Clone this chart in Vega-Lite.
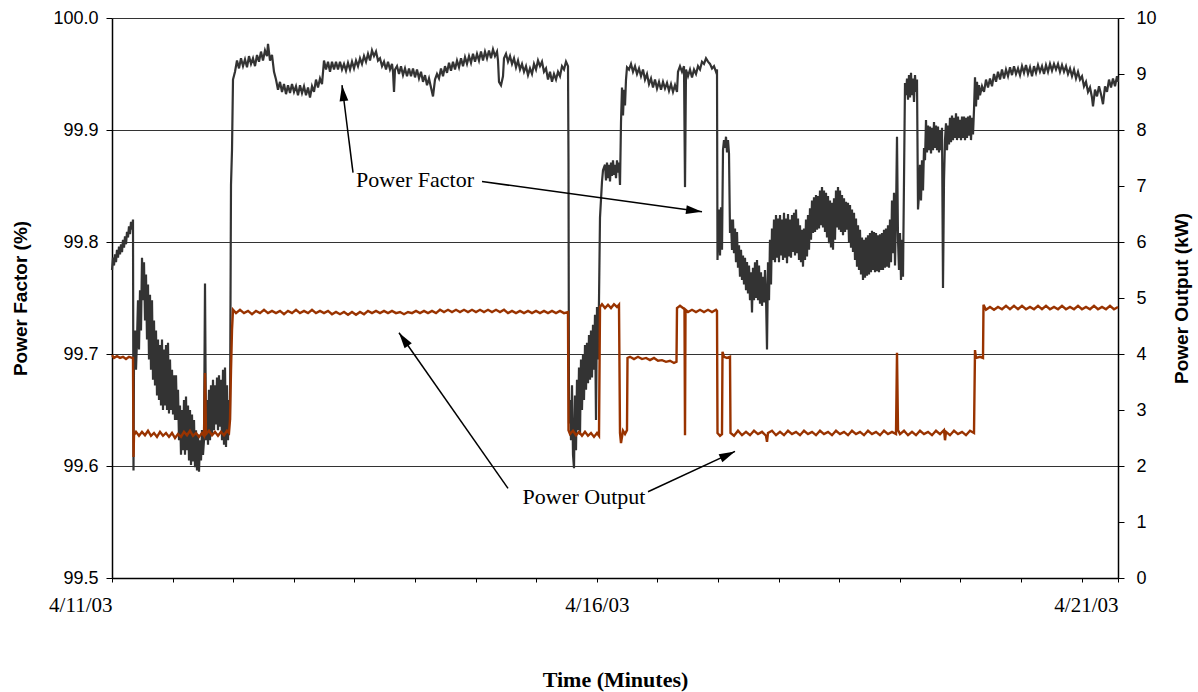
{
"$schema":"https://vega.github.io/schema/vega-lite/v6.json",
"width":1006,"height":560,
"autosize":{"type":"none"},
"padding":{"left":112,"top":18,"right":80,"bottom":114},
"background":"white",
"config":{"view":{"stroke":null},"axis":{"domainColor":"black","tickColor":"black","labelColor":"black","titleColor":"black"}},
"datasets":{
"pf":[
{"m":0,"pf":99.775},{"m":15,"pf":99.786},{"m":30,"pf":99.779},{"m":45,"pf":99.789},{"m":60,"pf":99.782},{"m":75,"pf":99.793},{"m":90,"pf":99.786},{"m":105,"pf":99.796},{"m":120,"pf":99.789},{"m":135,"pf":99.798},{"m":150,"pf":99.791},{"m":165,"pf":99.802},{"m":180,"pf":99.795},{"m":195,"pf":99.805},{"m":210,"pf":99.798},{"m":225,"pf":99.809},{"m":240,"pf":99.804},{"m":255,"pf":99.814},{"m":270,"pf":99.807},{"m":285,"pf":99.818},{"m":300,"pf":99.811},{"m":315,"pf":99.820},{"m":322.5,"pf":99.596},{"m":330,"pf":99.695},{"m":345,"pf":99.721},{"m":360,"pf":99.686},{"m":375,"pf":99.713},{"m":390,"pf":99.748},{"m":405,"pf":99.704},{"m":420,"pf":99.757},{"m":435,"pf":99.721},{"m":450,"pf":99.786},{"m":465,"pf":99.748},{"m":480,"pf":99.782},{"m":495,"pf":99.730},{"m":510,"pf":99.771},{"m":525,"pf":99.713},{"m":540,"pf":99.762},{"m":555,"pf":99.695},{"m":570,"pf":99.753},{"m":585,"pf":99.686},{"m":600,"pf":99.748},{"m":615,"pf":99.677},{"m":630,"pf":99.730},{"m":645,"pf":99.672},{"m":660,"pf":99.721},{"m":675,"pf":99.663},{"m":690,"pf":99.713},{"m":705,"pf":99.659},{"m":720,"pf":99.708},{"m":735,"pf":99.654},{"m":750,"pf":99.713},{"m":765,"pf":99.650},{"m":780,"pf":99.704},{"m":795,"pf":99.654},{"m":810,"pf":99.708},{"m":825,"pf":99.650},{"m":840,"pf":99.710},{"m":855,"pf":99.647},{"m":870,"pf":99.695},{"m":885,"pf":99.650},{"m":900,"pf":99.686},{"m":915,"pf":99.646},{"m":930,"pf":99.681},{"m":945,"pf":99.641},{"m":960,"pf":99.681},{"m":975,"pf":99.641},{"m":990,"pf":99.668},{"m":1005,"pf":99.623},{"m":1020,"pf":99.654},{"m":1035,"pf":99.610},{"m":1050,"pf":99.650},{"m":1065,"pf":99.614},{"m":1080,"pf":99.659},{"m":1095,"pf":99.610},{"m":1110,"pf":99.662},{"m":1125,"pf":99.614},{"m":1140,"pf":99.654},{"m":1155,"pf":99.605},{"m":1170,"pf":99.650},{"m":1185,"pf":99.601},{"m":1200,"pf":99.646},{"m":1215,"pf":99.604},{"m":1230,"pf":99.641},{"m":1245,"pf":99.599},{"m":1260,"pf":99.632},{"m":1275,"pf":99.596},{"m":1290,"pf":99.628},{"m":1305,"pf":99.595},{"m":1320,"pf":99.623},{"m":1335,"pf":99.605},{"m":1350,"pf":99.632},{"m":1365,"pf":99.610},{"m":1380,"pf":99.623},{"m":1395,"pf":99.763},{"m":1410,"pf":99.623},{"m":1425,"pf":99.659},{"m":1440,"pf":99.619},{"m":1455,"pf":99.668},{"m":1470,"pf":99.623},{"m":1485,"pf":99.672},{"m":1500,"pf":99.628},{"m":1515,"pf":99.677},{"m":1530,"pf":99.632},{"m":1545,"pf":99.672},{"m":1560,"pf":99.637},{"m":1575,"pf":99.679},{"m":1590,"pf":99.632},{"m":1605,"pf":99.681},{"m":1620,"pf":99.635},{"m":1635,"pf":99.677},{"m":1650,"pf":99.623},{"m":1665,"pf":99.686},{"m":1680,"pf":99.619},{"m":1695,"pf":99.688},{"m":1710,"pf":99.617},{"m":1725,"pf":99.672},{"m":1740,"pf":99.623},{"m":1755,"pf":99.659},{"m":1770,"pf":99.641},{"m":1785,"pf":99.851},{"m":1800,"pf":99.882},{"m":1815,"pf":99.945},
{"m":1845,"pf":99.952},{"m":1875,"pf":99.962},{"m":1905,"pf":99.955},{"m":1935,"pf":99.964},{"m":1965,"pf":99.957},{"m":1995,"pf":99.963},{"m":2025,"pf":99.956},{"m":2055,"pf":99.966},{"m":2085,"pf":99.959},{"m":2115,"pf":99.964},{"m":2145,"pf":99.957},{"m":2175,"pf":99.967},{"m":2205,"pf":99.961},{"m":2235,"pf":99.970},{"m":2265,"pf":99.962},{"m":2295,"pf":99.971},{"m":2325,"pf":99.966},{"m":2340,"pf":99.977},{"m":2370,"pf":99.962},{"m":2400,"pf":99.967},{"m":2430,"pf":99.952},{"m":2460,"pf":99.945},{"m":2490,"pf":99.936},{"m":2520,"pf":99.943},{"m":2550,"pf":99.934},{"m":2580,"pf":99.941},{"m":2610,"pf":99.932},{"m":2640,"pf":99.940},{"m":2670,"pf":99.933},{"m":2700,"pf":99.941},{"m":2730,"pf":99.934},{"m":2760,"pf":99.939},{"m":2790,"pf":99.931},{"m":2820,"pf":99.940},{"m":2850,"pf":99.933},{"m":2880,"pf":99.939},{"m":2910,"pf":99.931},{"m":2940,"pf":99.938},{"m":2970,"pf":99.929},{"m":3000,"pf":99.939},{"m":3030,"pf":99.934},{"m":3060,"pf":99.945},{"m":3090,"pf":99.938},{"m":3120,"pf":99.946},{"m":3150,"pf":99.941},{"m":3180,"pf":99.962},{"m":3210,"pf":99.954},{"m":3240,"pf":99.961},{"m":3270,"pf":99.952},{"m":3300,"pf":99.961},{"m":3330,"pf":99.954},{"m":3360,"pf":99.961},{"m":3390,"pf":99.954},{"m":3420,"pf":99.961},{"m":3450,"pf":99.954},{"m":3480,"pf":99.959},{"m":3510,"pf":99.953},{"m":3540,"pf":99.960},{"m":3570,"pf":99.954},{"m":3600,"pf":99.961},{"m":3630,"pf":99.955},{"m":3660,"pf":99.962},{"m":3690,"pf":99.957},{"m":3720,"pf":99.964},{"m":3750,"pf":99.959},{"m":3780,"pf":99.966},{"m":3810,"pf":99.961},{"m":3840,"pf":99.968},{"m":3870,"pf":99.962},{"m":3900,"pf":99.971},{"m":3930,"pf":99.966},{"m":3960,"pf":99.970},{"m":3990,"pf":99.962},{"m":4020,"pf":99.964},{"m":4050,"pf":99.957},{"m":4080,"pf":99.961},{"m":4110,"pf":99.954},{"m":4140,"pf":99.961},{"m":4170,"pf":99.954},{"m":4200,"pf":99.959},{"m":4215,"pf":99.952},{"m":4230,"pf":99.934},{"m":4245,"pf":99.954},{"m":4275,"pf":99.957},{"m":4305,"pf":99.950},{"m":4335,"pf":99.957},{"m":4365,"pf":99.949},{"m":4395,"pf":99.955},{"m":4425,"pf":99.948},{"m":4455,"pf":99.955},{"m":4485,"pf":99.948},{"m":4515,"pf":99.955},{"m":4545,"pf":99.947},{"m":4575,"pf":99.954},{"m":4605,"pf":99.946},{"m":4635,"pf":99.952},{"m":4665,"pf":99.943},{"m":4695,"pf":99.949},{"m":4725,"pf":99.940},{"m":4755,"pf":99.946},{"m":4785,"pf":99.938},{"m":4815,"pf":99.930},{"m":4845,"pf":99.945},{"m":4875,"pf":99.950},{"m":4905,"pf":99.946},{"m":4935,"pf":99.955},{"m":4965,"pf":99.948},{"m":4995,"pf":99.957},{"m":5025,"pf":99.951},{"m":5055,"pf":99.960},{"m":5085,"pf":99.953},{"m":5115,"pf":99.961},{"m":5145,"pf":99.954},{"m":5175,"pf":99.962},{"m":5205,"pf":99.956},{"m":5235,"pf":99.964},{"m":5265,"pf":99.957},{"m":5295,"pf":99.965},{"m":5325,"pf":99.959},{"m":5355,"pf":99.966},{"m":5385,"pf":99.960},{"m":5415,"pf":99.968},{"m":5445,"pf":99.961},{"m":5475,"pf":99.968},{"m":5505,"pf":99.962},{"m":5535,"pf":99.970},{"m":5565,"pf":99.962},{"m":5595,"pf":99.970},{"m":5625,"pf":99.964},{"m":5655,"pf":99.971},{"m":5685,"pf":99.964},{"m":5715,"pf":99.972},{"m":5745,"pf":99.966},{"m":5775,"pf":99.970},{"m":5790,"pf":99.962},{"m":5805,"pf":99.943},{"m":5835,"pf":99.940},{"m":5865,"pf":99.948},{"m":5880,"pf":99.964},{"m":5910,"pf":99.968},{"m":5940,"pf":99.961},{"m":5970,"pf":99.966},{"m":6000,"pf":99.959},{"m":6030,"pf":99.964},{"m":6060,"pf":99.956},{"m":6090,"pf":99.962},{"m":6120,"pf":99.954},{"m":6150,"pf":99.959},{"m":6180,"pf":99.952},{"m":6210,"pf":99.957},{"m":6240,"pf":99.949},{"m":6270,"pf":99.955},{"m":6300,"pf":99.950},{"m":6330,"pf":99.959},{"m":6360,"pf":99.954},{"m":6390,"pf":99.962},{"m":6420,"pf":99.957},{"m":6450,"pf":99.961},{"m":6480,"pf":99.952},{"m":6510,"pf":99.955},{"m":6540,"pf":99.945},{"m":6570,"pf":99.952},{"m":6600,"pf":99.943},{"m":6630,"pf":99.950},{"m":6660,"pf":99.945},{"m":6690,"pf":99.952},{"m":6720,"pf":99.948},{"m":6750,"pf":99.957},{"m":6780,"pf":99.954},{"m":6810,"pf":99.961},{"m":6840,"pf":99.957},{"m":6847.5,"pf":99.871},
{"m":6855,"pf":99.638},{"m":6870,"pf":99.659},{"m":6885,"pf":99.623},{"m":6900,"pf":99.672},{"m":6915,"pf":99.610},{"m":6930,"pf":99.598},{"m":6945,"pf":99.663},{"m":6960,"pf":99.614},{"m":6975,"pf":99.677},{"m":6990,"pf":99.632},{"m":7005,"pf":99.688},{"m":7020,"pf":99.628},{"m":7035,"pf":99.695},{"m":7050,"pf":99.650},{"m":7065,"pf":99.699},{"m":7080,"pf":99.659},{"m":7095,"pf":99.708},{"m":7110,"pf":99.668},{"m":7125,"pf":99.710},{"m":7140,"pf":99.674},{"m":7155,"pf":99.717},{"m":7170,"pf":99.677},{"m":7185,"pf":99.721},{"m":7200,"pf":99.679},{"m":7215,"pf":99.726},{"m":7230,"pf":99.686},{"m":7245,"pf":99.735},{"m":7260,"pf":99.641},{"m":7275,"pf":99.742},{"m":7290,"pf":99.695},{"m":7305,"pf":99.748},{"m":7320,"pf":99.822},{"m":7335,"pf":99.838},{"m":7350,"pf":99.854},{"m":7365,"pf":99.864},{"m":7395,"pf":99.869},{"m":7410,"pf":99.855},{"m":7425,"pf":99.871},{"m":7440,"pf":99.857},{"m":7455,"pf":99.869},{"m":7470,"pf":99.854},{"m":7485,"pf":99.871},{"m":7500,"pf":99.859},{"m":7515,"pf":99.873},{"m":7530,"pf":99.860},{"m":7545,"pf":99.869},{"m":7560,"pf":99.857},{"m":7575,"pf":99.873},{"m":7590,"pf":99.862},{"m":7605,"pf":99.871},{"m":7620,"pf":99.851},{"m":7635,"pf":99.907},{"m":7650,"pf":99.938},{"m":7665,"pf":99.913},{"m":7680,"pf":99.936},{"m":7695,"pf":99.922},{"m":7710,"pf":99.945},{"m":7725,"pf":99.956},
{"m":7755,"pf":99.954},{"m":7785,"pf":99.959},{"m":7815,"pf":99.952},{"m":7845,"pf":99.957},{"m":7875,"pf":99.950},{"m":7905,"pf":99.955},{"m":7935,"pf":99.948},{"m":7965,"pf":99.954},{"m":7995,"pf":99.945},{"m":8025,"pf":99.950},{"m":8055,"pf":99.941},{"m":8085,"pf":99.946},{"m":8115,"pf":99.938},{"m":8145,"pf":99.945},{"m":8175,"pf":99.937},{"m":8205,"pf":99.943},{"m":8235,"pf":99.936},{"m":8265,"pf":99.943},{"m":8295,"pf":99.937},{"m":8325,"pf":99.942},{"m":8355,"pf":99.935},{"m":8385,"pf":99.941},{"m":8415,"pf":99.934},{"m":8445,"pf":99.940},{"m":8475,"pf":99.934},{"m":8490,"pf":99.952},{"m":8520,"pf":99.957},{"m":8550,"pf":99.952},{"m":8580,"pf":99.957},{"m":8595,"pf":99.849},{"m":8610,"pf":99.954},{"m":8640,"pf":99.948},{"m":8670,"pf":99.954},{"m":8700,"pf":99.947},{"m":8730,"pf":99.954},{"m":8760,"pf":99.950},{"m":8790,"pf":99.957},{"m":8820,"pf":99.954},{"m":8850,"pf":99.961},{"m":8880,"pf":99.959},{"m":8910,"pf":99.964},{"m":8940,"pf":99.961},{"m":8970,"pf":99.959},{"m":9000,"pf":99.955},{"m":9030,"pf":99.957},{"m":9060,"pf":99.952},{"m":9075,"pf":99.954},{"m":9082.5,"pf":99.784},{"m":9090,"pf":99.802},{"m":9105,"pf":99.829},{"m":9120,"pf":99.788},{"m":9135,"pf":99.831},{"m":9150,"pf":99.793},{"m":9165,"pf":99.882},{"m":9180,"pf":99.891},{"m":9195,"pf":99.884},{"m":9210,"pf":99.894},{"m":9225,"pf":99.880},{"m":9240,"pf":99.891},{"m":9255,"pf":99.879},{"m":9270,"pf":99.808},{"m":9285,"pf":99.820},{"m":9300,"pf":99.793},
{"m":9315,"pf":99.820},{"m":9330,"pf":99.790},{"m":9345,"pf":99.812},{"m":9360,"pf":99.782},{"m":9375,"pf":99.809},{"m":9390,"pf":99.777},{"m":9405,"pf":99.797},{"m":9420,"pf":99.769},{"m":9435,"pf":99.793},{"m":9450,"pf":99.766},{"m":9465,"pf":99.788},{"m":9480,"pf":99.762},{"m":9495,"pf":99.786},{"m":9510,"pf":99.757},{"m":9525,"pf":99.782},{"m":9540,"pf":99.754},{"m":9555,"pf":99.779},{"m":9570,"pf":99.748},{"m":9585,"pf":99.773},{"m":9600,"pf":99.737},{"m":9615,"pf":99.777},{"m":9630,"pf":99.748},{"m":9645,"pf":99.782},{"m":9660,"pf":99.750},{"m":9675,"pf":99.784},{"m":9690,"pf":99.748},{"m":9705,"pf":99.779},{"m":9720,"pf":99.745},{"m":9735,"pf":99.773},{"m":9750,"pf":99.743},{"m":9765,"pf":99.769},{"m":9780,"pf":99.746},{"m":9795,"pf":99.775},{"m":9810,"pf":99.752},{"m":9825,"pf":99.704},{"m":9840,"pf":99.782},{"m":9855,"pf":99.748},{"m":9870,"pf":99.802},{"m":9885,"pf":99.762},{"m":9900,"pf":99.812},{"m":9915,"pf":99.784},{"m":9930,"pf":99.820},{"m":9945,"pf":99.782},{"m":9960,"pf":99.824},{"m":9975,"pf":99.786},{"m":9990,"pf":99.821},{"m":10005,"pf":99.782},{"m":10020,"pf":99.824},{"m":10035,"pf":99.788},{"m":10050,"pf":99.820},{"m":10065,"pf":99.784},{"m":10080,"pf":99.826},{"m":10095,"pf":99.786},{"m":10110,"pf":99.821},{"m":10125,"pf":99.781},{"m":10140,"pf":99.825},{"m":10155,"pf":99.787},{"m":10170,"pf":99.820},{"m":10185,"pf":99.786},{"m":10200,"pf":99.824},{"m":10215,"pf":99.791},{"m":10230,"pf":99.826},{"m":10245,"pf":99.788},{"m":10260,"pf":99.829},{"m":10275,"pf":99.790},{"m":10290,"pf":99.821},{"m":10305,"pf":99.784},{"m":10320,"pf":99.815},{"m":10335,"pf":99.782},{"m":10350,"pf":99.811},{"m":10365,"pf":99.778},{"m":10380,"pf":99.812},{"m":10395,"pf":99.784},{"m":10410,"pf":99.820},{"m":10425,"pf":99.787},{"m":10440,"pf":99.824},{"m":10455,"pf":99.793},{"m":10470,"pf":99.830},{"m":10485,"pf":99.802},{"m":10500,"pf":99.837},{"m":10515,"pf":99.808},{"m":10530,"pf":99.840},{"m":10545,"pf":99.809},{"m":10560,"pf":99.842},{"m":10575,"pf":99.811},{"m":10590,"pf":99.841},{"m":10605,"pf":99.812},{"m":10620,"pf":99.846},{"m":10635,"pf":99.815},{"m":10650,"pf":99.849},{"m":10665,"pf":99.813},{"m":10680,"pf":99.846},{"m":10695,"pf":99.809},{"m":10710,"pf":99.844},{"m":10725,"pf":99.804},{"m":10740,"pf":99.841},{"m":10755,"pf":99.799},{"m":10770,"pf":99.837},{"m":10785,"pf":99.795},{"m":10800,"pf":99.835},{"m":10815,"pf":99.793},{"m":10830,"pf":99.839},{"m":10845,"pf":99.802},{"m":10860,"pf":99.846},{"m":10875,"pf":99.813},{"m":10890,"pf":99.849},{"m":10905,"pf":99.811},{"m":10920,"pf":99.846},{"m":10935,"pf":99.809},{"m":10950,"pf":99.842},{"m":10965,"pf":99.806},{"m":10980,"pf":99.839},{"m":10995,"pf":99.809},{"m":11010,"pf":99.836},{"m":11025,"pf":99.811},{"m":11040,"pf":99.835},{"m":11055,"pf":99.800},{"m":11070,"pf":99.833},{"m":11085,"pf":99.795},{"m":11100,"pf":99.829},{"m":11115,"pf":99.791},{"m":11130,"pf":99.826},{"m":11145,"pf":99.784},{"m":11160,"pf":99.821},{"m":11175,"pf":99.778},{"m":11190,"pf":99.815},{"m":11205,"pf":99.775},{"m":11220,"pf":99.811},{"m":11235,"pf":99.771},{"m":11250,"pf":99.804},{"m":11265,"pf":99.766},{"m":11280,"pf":99.802},{"m":11295,"pf":99.768},{"m":11310,"pf":99.804},{"m":11325,"pf":99.770},{"m":11340,"pf":99.806},{"m":11355,"pf":99.771},{"m":11370,"pf":99.808},{"m":11385,"pf":99.773},{"m":11400,"pf":99.810},{"m":11415,"pf":99.775},{"m":11430,"pf":99.809},{"m":11445,"pf":99.773},{"m":11460,"pf":99.808},{"m":11475,"pf":99.774},{"m":11490,"pf":99.806},{"m":11505,"pf":99.773},{"m":11520,"pf":99.807},{"m":11535,"pf":99.775},{"m":11550,"pf":99.808},{"m":11565,"pf":99.775},{"m":11580,"pf":99.811},{"m":11595,"pf":99.777},{"m":11610,"pf":99.812},{"m":11625,"pf":99.778},{"m":11640,"pf":99.815},{"m":11655,"pf":99.777},{"m":11670,"pf":99.820},{"m":11685,"pf":99.782},{"m":11700,"pf":99.837},{"m":11715,"pf":99.790},{"m":11730,"pf":99.844},{"m":11745,"pf":99.779},{"m":11760,"pf":99.824},{"m":11775,"pf":99.894},{"m":11790,"pf":99.802},{"m":11805,"pf":99.775},{"m":11820,"pf":99.808},{"m":11835,"pf":99.766},{"m":11850,"pf":99.802},{"m":11865,"pf":99.769},{"m":11880,"pf":99.855},{"m":11895,"pf":99.942},
{"m":11910,"pf":99.931},{"m":11925,"pf":99.946},{"m":11940,"pf":99.927},{"m":11955,"pf":99.949},{"m":11970,"pf":99.929},{"m":11985,"pf":99.951},{"m":12000,"pf":99.931},{"m":12015,"pf":99.946},{"m":12030,"pf":99.925},{"m":12045,"pf":99.949},{"m":12060,"pf":99.934},{"m":12075,"pf":99.945},{"m":12090,"pf":99.829},{"m":12105,"pf":99.842},{"m":12120,"pf":99.869},{"m":12135,"pf":99.837},{"m":12150,"pf":99.873},{"m":12165,"pf":99.846},{"m":12180,"pf":99.884},{"m":12195,"pf":99.873},{"m":12210,"pf":99.909},{"m":12225,"pf":99.880},{"m":12240,"pf":99.904},{"m":12255,"pf":99.882},{"m":12270,"pf":99.903},{"m":12285,"pf":99.879},{"m":12300,"pf":99.902},{"m":12315,"pf":99.882},{"m":12330,"pf":99.907},{"m":12345,"pf":99.884},{"m":12360,"pf":99.904},{"m":12375,"pf":99.882},{"m":12390,"pf":99.903},{"m":12405,"pf":99.880},{"m":12420,"pf":99.900},{"m":12435,"pf":99.882},{"m":12450,"pf":99.902},{"m":12465,"pf":99.759},{"m":12480,"pf":99.855},{"m":12495,"pf":99.891},{"m":12510,"pf":99.906},{"m":12525,"pf":99.882},{"m":12540,"pf":99.904},{"m":12555,"pf":99.887},{"m":12570,"pf":99.911},{"m":12585,"pf":99.889},{"m":12600,"pf":99.913},{"m":12615,"pf":99.891},{"m":12630,"pf":99.911},{"m":12645,"pf":99.893},{"m":12660,"pf":99.915},{"m":12675,"pf":99.891},{"m":12690,"pf":99.912},{"m":12705,"pf":99.893},{"m":12720,"pf":99.909},{"m":12735,"pf":99.891},{"m":12750,"pf":99.912},{"m":12765,"pf":99.893},{"m":12780,"pf":99.912},{"m":12795,"pf":99.891},{"m":12810,"pf":99.911},{"m":12825,"pf":99.893},{"m":12840,"pf":99.912},{"m":12855,"pf":99.895},{"m":12870,"pf":99.913},{"m":12885,"pf":99.891},{"m":12900,"pf":99.911},{"m":12915,"pf":99.896},{"m":12930,"pf":99.918},{"m":12945,"pf":99.947},{"m":12960,"pf":99.921},{"m":12975,"pf":99.943},{"m":12990,"pf":99.927},{"m":13005,"pf":99.940},{"m":13020,"pf":99.931},
{"m":13050,"pf":99.939},{"m":13080,"pf":99.934},{"m":13110,"pf":99.945},{"m":13140,"pf":99.938},{"m":13170,"pf":99.946},{"m":13200,"pf":99.939},{"m":13230,"pf":99.950},{"m":13260,"pf":99.943},{"m":13290,"pf":99.952},{"m":13320,"pf":99.945},{"m":13350,"pf":99.954},{"m":13380,"pf":99.946},{"m":13410,"pf":99.954},{"m":13440,"pf":99.948},{"m":13470,"pf":99.956},{"m":13500,"pf":99.949},{"m":13530,"pf":99.957},{"m":13560,"pf":99.950},{"m":13590,"pf":99.955},{"m":13620,"pf":99.949},{"m":13650,"pf":99.957},{"m":13680,"pf":99.951},{"m":13710,"pf":99.958},{"m":13740,"pf":99.950},{"m":13770,"pf":99.956},{"m":13800,"pf":99.948},{"m":13830,"pf":99.957},{"m":13860,"pf":99.951},{"m":13890,"pf":99.958},{"m":13920,"pf":99.952},{"m":13950,"pf":99.957},{"m":13980,"pf":99.950},{"m":14010,"pf":99.958},{"m":14040,"pf":99.952},{"m":14070,"pf":99.959},{"m":14100,"pf":99.953},{"m":14130,"pf":99.959},{"m":14160,"pf":99.954},{"m":14190,"pf":99.959},{"m":14220,"pf":99.952},{"m":14250,"pf":99.958},{"m":14280,"pf":99.952},{"m":14310,"pf":99.957},{"m":14340,"pf":99.950},{"m":14370,"pf":99.955},{"m":14400,"pf":99.948},{"m":14430,"pf":99.954},{"m":14460,"pf":99.946},{"m":14490,"pf":99.952},{"m":14520,"pf":99.945},{"m":14550,"pf":99.948},{"m":14580,"pf":99.939},{"m":14610,"pf":99.943},{"m":14640,"pf":99.934},{"m":14670,"pf":99.938},{"m":14700,"pf":99.929},{"m":14715,"pf":99.921},{"m":14745,"pf":99.936},{"m":14775,"pf":99.930},{"m":14805,"pf":99.939},{"m":14835,"pf":99.932},{"m":14865,"pf":99.923},{"m":14895,"pf":99.939},{"m":14925,"pf":99.934},{"m":14955,"pf":99.945},{"m":14985,"pf":99.938},{"m":15015,"pf":99.946},{"m":15045,"pf":99.939},{"m":15075,"pf":99.948},{"m":15090,"pf":99.943}
],
"po":[
{"m":0,"po":3.98},{"m":30,"po":3.93},{"m":75,"po":3.96},{"m":120,"po":3.93},{"m":165,"po":3.95},{"m":210,"po":3.91},{"m":255,"po":3.95},{"m":300,"po":3.93},{"m":315,"po":3.93},{"m":322.5,"po":2.16},{"m":330,"po":2.55},{"m":360,"po":2.61},{"m":405,"po":2.54},{"m":450,"po":2.61},{"m":495,"po":2.55},{"m":540,"po":2.63},{"m":585,"po":2.54},{"m":630,"po":2.59},{"m":675,"po":2.52},{"m":720,"po":2.61},{"m":765,"po":2.54},{"m":810,"po":2.59},{"m":855,"po":2.52},{"m":900,"po":2.59},{"m":945,"po":2.50},{"m":990,"po":2.57},{"m":1035,"po":2.52},{"m":1080,"po":2.61},{"m":1125,"po":2.55},{"m":1170,"po":2.63},{"m":1215,"po":2.54},{"m":1260,"po":2.59},{"m":1305,"po":2.52},{"m":1350,"po":2.59},{"m":1380,"po":2.54},{"m":1395,"po":3.66},{"m":1410,"po":2.57},{"m":1455,"po":2.63},{"m":1500,"po":2.55},{"m":1545,"po":2.61},{"m":1590,"po":2.54},{"m":1635,"po":2.61},{"m":1680,"po":2.55},{"m":1725,"po":2.63},{"m":1755,"po":2.59},{"m":1770,"po":2.82},{"m":1785,"po":3.71},{"m":1800,"po":4.43},{"m":1815,"po":4.79},
{"m":1860,"po":4.73},{"m":1920,"po":4.79},{"m":1980,"po":4.73},{"m":2040,"po":4.77},{"m":2100,"po":4.71},{"m":2160,"po":4.77},{"m":2220,"po":4.73},{"m":2280,"po":4.79},{"m":2340,"po":4.73},{"m":2400,"po":4.77},{"m":2460,"po":4.73},{"m":2520,"po":4.77},{"m":2580,"po":4.71},{"m":2640,"po":4.77},{"m":2700,"po":4.73},{"m":2760,"po":4.79},{"m":2820,"po":4.73},{"m":2880,"po":4.77},{"m":2940,"po":4.73},{"m":3000,"po":4.79},{"m":3060,"po":4.73},{"m":3120,"po":4.77},{"m":3180,"po":4.73},{"m":3240,"po":4.77},{"m":3300,"po":4.71},{"m":3360,"po":4.75},{"m":3420,"po":4.71},{"m":3480,"po":4.75},{"m":3540,"po":4.70},{"m":3600,"po":4.75},{"m":3660,"po":4.70},{"m":3720,"po":4.75},{"m":3780,"po":4.71},{"m":3840,"po":4.77},{"m":3900,"po":4.73},{"m":3960,"po":4.77},{"m":4020,"po":4.73},{"m":4080,"po":4.77},{"m":4140,"po":4.73},{"m":4200,"po":4.77},{"m":4260,"po":4.73},{"m":4320,"po":4.75},{"m":4380,"po":4.71},{"m":4440,"po":4.75},{"m":4500,"po":4.73},{"m":4560,"po":4.77},{"m":4620,"po":4.73},{"m":4680,"po":4.77},{"m":4740,"po":4.73},{"m":4800,"po":4.77},{"m":4860,"po":4.73},{"m":4920,"po":4.79},{"m":4980,"po":4.75},{"m":5040,"po":4.79},{"m":5100,"po":4.75},{"m":5160,"po":4.79},{"m":5220,"po":4.75},{"m":5280,"po":4.79},{"m":5340,"po":4.75},{"m":5400,"po":4.79},{"m":5460,"po":4.75},{"m":5520,"po":4.79},{"m":5580,"po":4.75},{"m":5640,"po":4.79},{"m":5700,"po":4.75},{"m":5760,"po":4.79},{"m":5820,"po":4.75},{"m":5880,"po":4.79},{"m":5940,"po":4.73},{"m":6000,"po":4.77},{"m":6060,"po":4.73},{"m":6120,"po":4.77},{"m":6180,"po":4.73},{"m":6240,"po":4.77},{"m":6300,"po":4.73},{"m":6360,"po":4.77},{"m":6420,"po":4.73},{"m":6480,"po":4.77},{"m":6540,"po":4.73},{"m":6600,"po":4.77},{"m":6660,"po":4.73},{"m":6720,"po":4.77},{"m":6780,"po":4.73},{"m":6840,"po":4.75},
{"m":6847.5,"po":2.64},{"m":6870,"po":2.57},{"m":6915,"po":2.63},{"m":6960,"po":2.55},{"m":7005,"po":2.61},{"m":7050,"po":2.54},{"m":7095,"po":2.61},{"m":7140,"po":2.54},{"m":7185,"po":2.59},{"m":7230,"po":2.52},{"m":7275,"po":2.59},{"m":7305,"po":2.54},{"m":7320,"po":4.84},{"m":7350,"po":4.89},{"m":7395,"po":4.82},{"m":7440,"po":4.88},{"m":7485,"po":4.82},{"m":7530,"po":4.89},{"m":7575,"po":4.84},{"m":7605,"po":4.88},{"m":7620,"po":2.59},{"m":7635,"po":2.41},{"m":7665,"po":2.63},{"m":7695,"po":2.57},{"m":7725,"po":2.64},{"m":7732.5,"po":3.93},{"m":7770,"po":3.95},{"m":7830,"po":3.91},{"m":7890,"po":3.95},{"m":7950,"po":3.91},{"m":8010,"po":3.93},{"m":8070,"po":3.89},{"m":8130,"po":3.93},{"m":8190,"po":3.88},{"m":8250,"po":3.89},{"m":8310,"po":3.86},{"m":8370,"po":3.88},{"m":8430,"po":3.84},{"m":8467.5,"po":3.86},{"m":8475,"po":4.82},{"m":8520,"po":4.86},{"m":8565,"po":4.82},{"m":8587.5,"po":4.80},{"m":8595,"po":2.55},{"m":8602.5,"po":4.79},{"m":8640,"po":4.75},{"m":8700,"po":4.79},{"m":8760,"po":4.75},{"m":8820,"po":4.79},{"m":8880,"po":4.75},{"m":8940,"po":4.79},{"m":9000,"po":4.75},{"m":9060,"po":4.79},{"m":9075,"po":4.77},{"m":9082.5,"po":2.59},{"m":9120,"po":2.54},{"m":9150,"po":2.57},{"m":9157.5,"po":4.04},{"m":9180,"po":3.95},{"m":9225,"po":3.93},{"m":9270,"po":3.95},{"m":9277.5,"po":2.59},
{"m":9330,"po":2.54},{"m":9390,"po":2.63},{"m":9450,"po":2.55},{"m":9510,"po":2.61},{"m":9570,"po":2.55},{"m":9630,"po":2.63},{"m":9690,"po":2.57},{"m":9750,"po":2.61},{"m":9810,"po":2.54},{"m":9825,"po":2.43},{"m":9840,"po":2.59},{"m":9900,"po":2.63},{"m":9960,"po":2.55},{"m":10020,"po":2.61},{"m":10080,"po":2.55},{"m":10140,"po":2.63},{"m":10200,"po":2.57},{"m":10260,"po":2.61},{"m":10320,"po":2.55},{"m":10380,"po":2.63},{"m":10440,"po":2.57},{"m":10500,"po":2.61},{"m":10560,"po":2.55},{"m":10620,"po":2.63},{"m":10680,"po":2.57},{"m":10740,"po":2.61},{"m":10800,"po":2.55},{"m":10860,"po":2.63},{"m":10920,"po":2.57},{"m":10980,"po":2.61},{"m":11040,"po":2.55},{"m":11100,"po":2.63},{"m":11160,"po":2.57},{"m":11220,"po":2.61},{"m":11280,"po":2.55},{"m":11340,"po":2.63},{"m":11400,"po":2.57},{"m":11460,"po":2.61},{"m":11520,"po":2.55},{"m":11580,"po":2.63},{"m":11640,"po":2.57},{"m":11700,"po":2.61},{"m":11760,"po":2.57},{"m":11775,"po":4.02},{"m":11790,"po":2.64},{"m":11820,"po":2.57},{"m":11880,"po":2.63},{"m":11940,"po":2.55},{"m":12000,"po":2.61},{"m":12060,"po":2.55},{"m":12120,"po":2.63},{"m":12180,"po":2.57},{"m":12240,"po":2.61},{"m":12300,"po":2.55},{"m":12360,"po":2.63},{"m":12420,"po":2.57},{"m":12480,"po":2.64},{"m":12495,"po":2.46},{"m":12510,"po":2.61},{"m":12570,"po":2.55},{"m":12630,"po":2.63},{"m":12690,"po":2.57},{"m":12750,"po":2.61},{"m":12810,"po":2.55},{"m":12870,"po":2.63},{"m":12930,"po":2.59},{"m":12945,"po":4.07},{"m":12960,"po":3.93},{"m":13020,"po":3.95},{"m":13065,"po":3.93},{"m":13072.5,"po":4.88},{"m":13110,"po":4.79},{"m":13170,"po":4.84},{"m":13230,"po":4.79},{"m":13290,"po":4.84},{"m":13350,"po":4.80},{"m":13410,"po":4.86},{"m":13470,"po":4.80},{"m":13530,"po":4.86},{"m":13590,"po":4.80},{"m":13650,"po":4.86},{"m":13710,"po":4.80},{"m":13770,"po":4.84},{"m":13830,"po":4.80},{"m":13890,"po":4.86},{"m":13950,"po":4.80},{"m":14010,"po":4.86},{"m":14070,"po":4.80},{"m":14130,"po":4.84},{"m":14190,"po":4.80},{"m":14250,"po":4.86},{"m":14310,"po":4.80},{"m":14370,"po":4.84},{"m":14430,"po":4.80},{"m":14490,"po":4.86},{"m":14550,"po":4.80},{"m":14610,"po":4.84},{"m":14670,"po":4.80},{"m":14730,"po":4.86},{"m":14790,"po":4.80},{"m":14850,"po":4.84},{"m":14910,"po":4.80},{"m":14970,"po":4.86},{"m":15030,"po":4.80},{"m":15090,"po":4.84}
],
"arrows":[
{"m1":3615,"pf1":99.862,"m2":3450,"pf2":99.940,"ang":353},
{"m1":5550,"pf1":99.854,"m2":8850,"pf2":99.827,"ang":98},
{"m1":5940,"pf1":99.580,"m2":4305,"pf2":99.719,"ang":325},
{"m1":8040,"pf1":99.577,"m2":9345,"pf2":99.613,"ang":65}
],
"labels":[
{"m":4545,"pf":99.855,"t":"Power Factor"},
{"m":7080,"pf":99.572,"t":"Power Output"}
]
},
"layer":[
{"layer":[
{"data":{"name":"pf"},"mark":{"type":"line","color":"#333333","strokeWidth":2.2},
"encoding":{
"x":{"field":"m","type":"quantitative","scale":{"domain":[0,15090],"nice":false,"zero":false},
"axis":{"values":[0,909,1818,2727,3636,4545,5454,6363,7272,8181,9090,9999,10908,11817,12726,13635,14544,15090],
"labelExpr":"datum.value == 0 ? '4/11/03' : datum.value == 7272 ? '4/16/03' : datum.value == 15090 ? '4/21/03' : ''",
"labelFont":"Liberation Serif","labelFontSize":21,
"labelAlign":{"condition":{"test":"datum.value == 0 || datum.value == 15090","value":"right"},"value":"center"},
"labelPadding":12,"tickSize":4,"labelFlush":false,"labelOverlap":false,"labelBound":false,"grid":false,
"domainWidth":1.5,"title":"Time (Minutes)","titleFont":"Liberation Serif","titleFontSize":22,"titleFontWeight":"bold","titlePadding":54}},
"y":{"field":"pf","type":"quantitative","scale":{"domain":[99.5,100],"nice":false,"zero":false},
"axis":{"values":[99.5,99.6,99.7,99.8,99.9,100],"format":".1f","labelFont":"Liberation Sans","labelFontSize":18,"tickSize":6,"labelPadding":8,
"grid":true,"gridColor":"#333333","gridWidth":1,"domainWidth":1.5,
"title":"Power Factor (%)","titleFont":"Liberation Sans","titleFontSize":19,"titleFontWeight":"bold","titlePadding":22}}
}},
{"data":{"name":"arrows"},"mark":{"type":"rule","color":"black","strokeWidth":1.5},
"encoding":{"x":{"field":"m1","type":"quantitative","scale":{"domain":[0,15090],"nice":false,"zero":false}},
"y":{"field":"pf1","type":"quantitative","scale":{"domain":[99.5,100],"nice":false,"zero":false}},
"x2":{"field":"m2"},"y2":{"field":"pf2"}}},
{"data":{"name":"arrows"},"mark":{"type":"point","shape":"M0,0L-0.55,2L0.55,2Z","filled":true,"color":"black","opacity":1,"size":256},
"encoding":{"x":{"field":"m2","type":"quantitative","scale":{"domain":[0,15090],"nice":false,"zero":false}},
"y":{"field":"pf2","type":"quantitative","scale":{"domain":[99.5,100],"nice":false,"zero":false}},
"angle":{"field":"ang","type":"quantitative","scale":null}}},
{"data":{"name":"labels"},"mark":{"type":"text","font":"Liberation Serif","fontSize":22,"color":"black"},
"encoding":{"x":{"field":"m","type":"quantitative","scale":{"domain":[0,15090],"nice":false,"zero":false}},
"y":{"field":"pf","type":"quantitative","scale":{"domain":[99.5,100],"nice":false,"zero":false}},
"text":{"field":"t"}}}
]},
{"data":{"name":"po"},"mark":{"type":"line","color":"#993300","strokeWidth":2.4},
"encoding":{"x":{"field":"m","type":"quantitative","scale":{"domain":[0,15090],"nice":false,"zero":false}},
"y":{"field":"po","type":"quantitative","scale":{"domain":[0,10],"nice":false,"zero":false},
"axis":{"orient":"right","values":[0,1,2,3,4,5,6,7,8,9,10],"labelFont":"Liberation Sans","labelFontSize":18,"tickSize":6,"labelPadding":12,"grid":false,"domainWidth":1.5,
"title":"Power Output (kW)","titleFont":"Liberation Sans","titleFontSize":19,"titleFontWeight":"bold","titlePadding":35,"titleAngle":270}}}}
],
"resolve":{"scale":{"y":"independent"}}
}
